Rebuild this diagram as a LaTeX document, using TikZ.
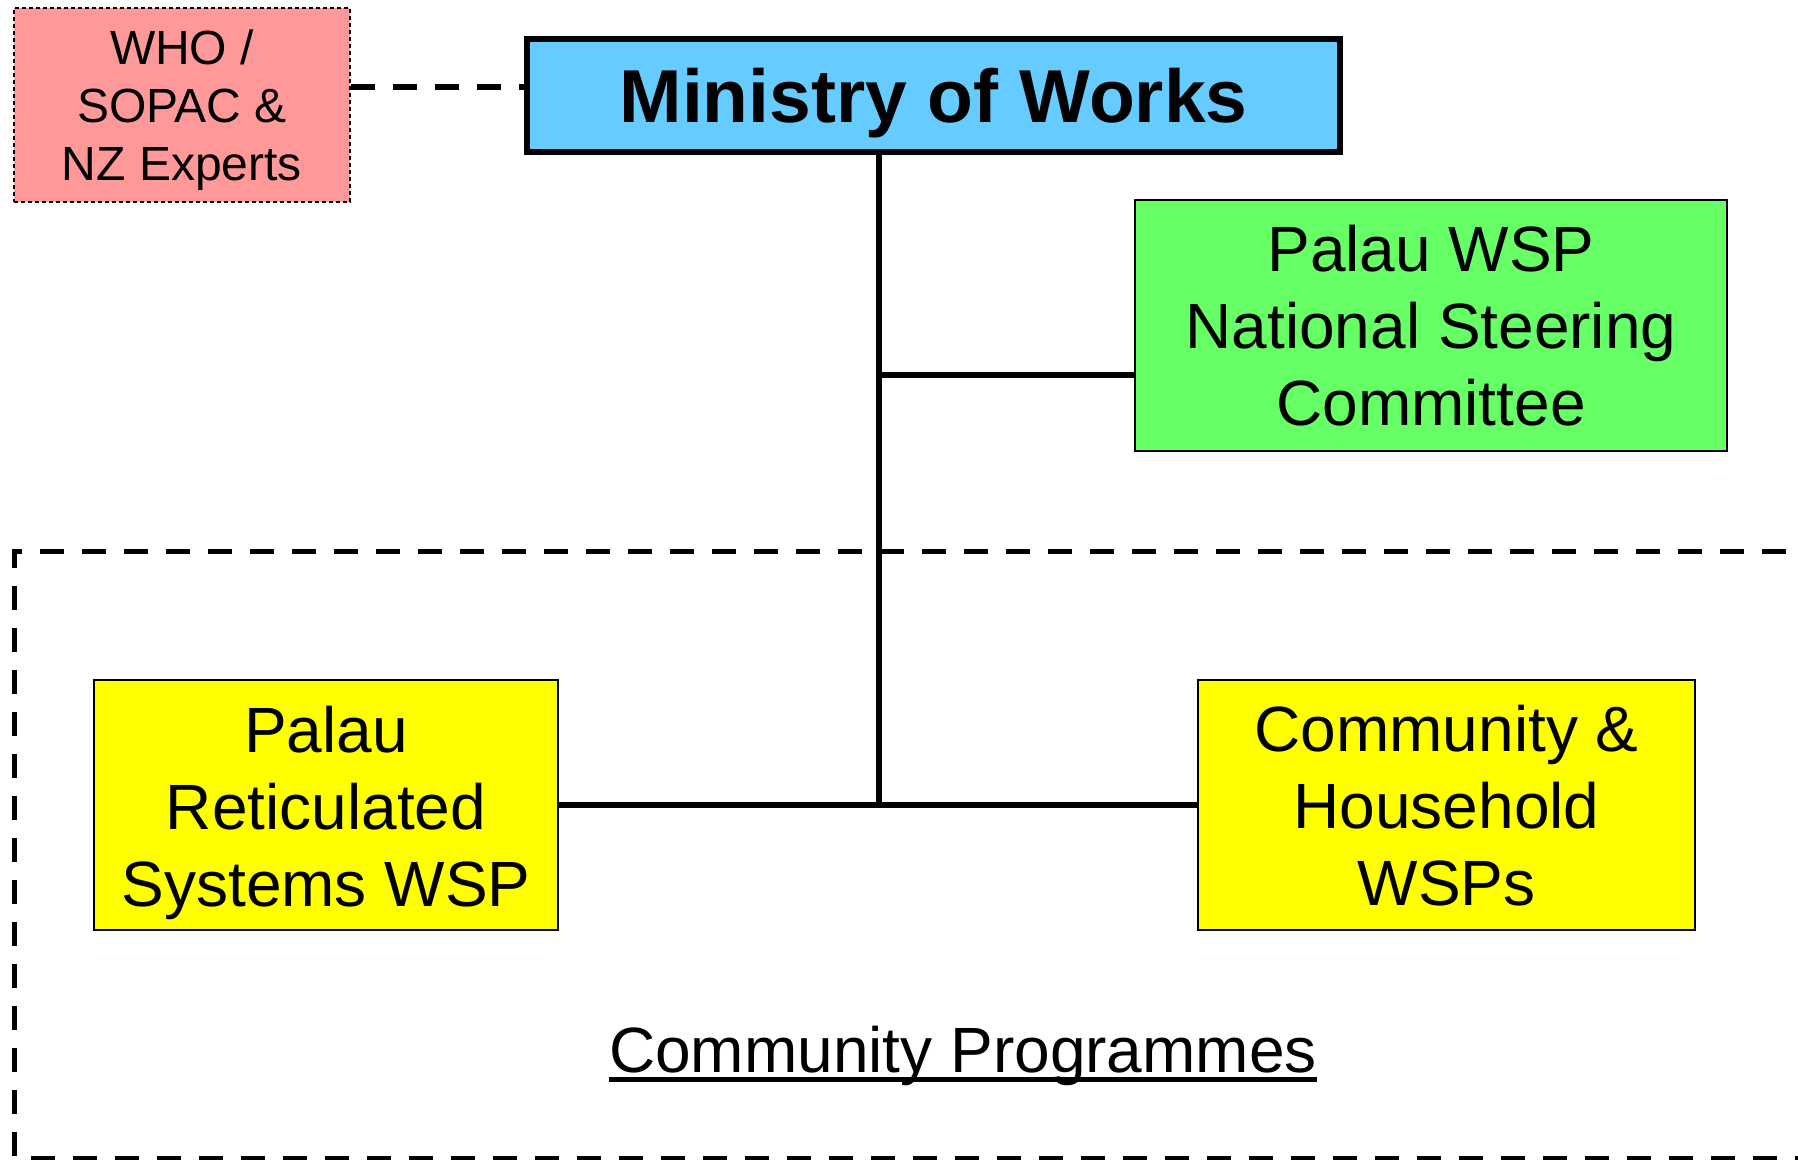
\documentclass[tikz,border=0pt]{standalone}
\usepackage{fontspec}
\setmainfont{Liberation Sans}
\definecolor{mowblue}{HTML}{66CCFF}
\definecolor{nscgreen}{HTML}{66FF66}
\definecolor{boxyellow}{HTML}{FFFF00}
\definecolor{whopink}{HTML}{FF9999}
\begin{document}
\begin{tikzpicture}[x=1pt,y=1pt,
  box/.style={draw=black,line width=2pt,inner sep=0pt},
  txt/.style={inner sep=0pt,align=center,font=\fontsize{64}{77}\selectfont},
  conn/.style={line width=6pt},
  bigdash/.style={line width=5pt,dash pattern=on 24pt off 18pt},
]
\useasboundingbox (0,0) rectangle (1798,-1159);
% community programmes frame (open on the right)
\draw[bigdash] (21.5,-551) -- (14.5,-551) -- (14.5,-1158) -- (1798,-1158);
\draw[bigdash] (40,-551) -- (1798,-551);
% boxes
\node[box,fill=whopink,line width=1.3pt,dash pattern=on 4pt off 3pt,
  minimum width=336pt,minimum height=194pt] (who) at (182,-105) {};
\node[box,fill=mowblue,line width=6pt,minimum width=813pt,minimum height=113pt]
  (mow) at (933.5,-95.5) {};
\node[box,fill=nscgreen,minimum width=592pt,minimum height=251pt] (nsc) at (1431,-325.5) {};
\node[box,fill=boxyellow,minimum width=464pt,minimum height=250pt] (prs) at (326,-805) {};
\node[box,fill=boxyellow,minimum width=497pt,minimum height=250pt] (chw) at (1446.5,-805) {};
% texts
\node[txt,font=\fontsize{48}{58}\selectfont] (whot) at ([yshift=-5pt]who.center)
  {WHO /\\SOPAC \&\\NZ Experts};
\node[txt,font=\fontsize{75}{90}\bfseries\selectfont] (mowt) at ([yshift=-8pt]mow.center)
  {Ministry of Works};
\node[txt] (nsct) at (nsc.center) {Palau WSP\\National Steering\\Committee};
\node[txt] (prst) at ([yshift=-8pt]prs.center) {Palau\\Reticulated\\Systems WSP};
\node[txt] (chwt) at ([yshift=-1pt]chw.center) {Community \&\\Household\\WSPs};
\node[txt,anchor=base] (cp) at (963,-1072) {Community Programmes};
\draw[line width=4.5pt] ([yshift=-7.5pt]cp.base west) -- ([yshift=-7.5pt]cp.base east);
% connectors
\coordinate (j) at (879,-805);
\coordinate (h) at (0,-375);
\coordinate (dl) at (0,-87);
\draw[conn] (mow.south -| j) -- (j);
\draw[conn] (j |- h) -- (nsc.west |- h);
\draw[conn] (prs.east) -- (chw.west);
\draw[line width=6pt,dash pattern=on 24pt off 18pt] (who.east |- dl) -- (mow.west |- dl);
\end{tikzpicture}
\end{document}
